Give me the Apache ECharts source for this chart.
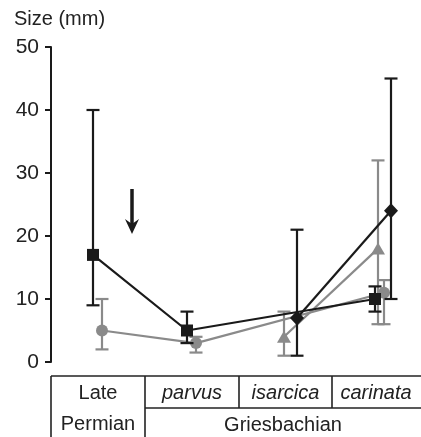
<!DOCTYPE html>
<html>
<head>
<meta charset="utf-8">
<script src="https://cdn.jsdelivr.net/npm/echarts@6/dist/echarts.min.js"></script>
<style>
html,body{margin:0;padding:0;background:#fff;}
#chart{width:421px;height:437px;}
</style>
</head>
<body>
<div id="chart"></div>
<script>
// ---- data ----
const categories = ['Late Permian', 'parvus', 'isarcica', 'carinata'];
const periodLabels = ['Late\nPermian', 'Griesbachian'];
const yTickMin = 0, yTickMax = 50, yTickStep = 10;

const squareMean = [17, 5, null, 10];
const squareLow  = [9, 3, null, 8];
const squareHigh = [40, 8, null, 12];

const circleMean = [5, 3, null, 11];
const circleLow  = [2, 1.5, null, 6];
const circleHigh = [10, 4, null, 13];

const triangleMean = [null, null, 4, 18];
const triangleLow  = [null, null, 1, 6];
const triangleHigh = [null, null, 8, 32];

const diamondMean = [null, null, 7, 24];
const diamondLow  = [null, null, 1, 10];
const diamondHigh = [null, null, 21, 45];

// ---- layout / style ----
const FONT = '"Liberation Sans", Arial, Helvetica, sans-serif';
const BLACK = '#1a1a1a', GRAY = '#8a8a8a';
const gridLeft = 51, gridTop = 47, gridBottom = 75, W = 421;
const unitPx = 94;                       // px per category
const xMin = -0.5, xMax = xMin + (W - gridLeft) / unitPx;
const dodge = {square: -5 / unitPx, circle: 4 / unitPx, triangle: -2 / unitPx, diamond: 11 / unitPx};

function pts(mean, off) {
  const out = [];
  mean.forEach((v, i) => { if (v !== null) out.push([i + off, v]); });
  return out;
}
function bars(mean, lo, hi, off) {
  const out = [];
  mean.forEach((v, i) => { if (v !== null) out.push([i + off, lo[i], hi[i]]); });
  return out;
}
function errSeries(data, color, z) {
  return {
    type: 'custom', z: z, silent: true,
    data: data,
    encode: {x: 0, y: [1, 2]},
    renderItem: function (params, api) {
      const x = api.value(0);
      const a = api.coord([x, api.value(1)]);
      const b = api.coord([x, api.value(2)]);
      const hw = 6.5;
      const st = {stroke: color, lineWidth: 2.2};
      return {type: 'group', children: [
        {type: 'line', shape: {x1: a[0], y1: a[1], x2: b[0], y2: b[1]}, style: st},
        {type: 'line', shape: {x1: a[0] - hw, y1: a[1], x2: a[0] + hw, y2: a[1]}, style: st},
        {type: 'line', shape: {x1: b[0] - hw, y1: b[1], x2: b[0] + hw, y2: b[1]}, style: st}
      ]};
    }
  };
}
function lineSeries(data, color, symbol, size, z) {
  return {
    type: 'line', z: z, data: data, symbol: symbol, symbolSize: size,
    lineStyle: {color: color, width: 2.2}, itemStyle: {color: color, opacity: 1},
    silent: true, animation: false
  };
}

const chart = echarts.init(document.getElementById('chart'), null, {renderer: 'canvas'});

// table geometry
const tTop = 376, tMid = 408, tBot = 437;
const cellX = [gridLeft, gridLeft + unitPx, gridLeft + 2 * unitPx, gridLeft + 3 * unitPx - 1, W];
const lineSt = {stroke: '#222', lineWidth: 1.6};
const txt = (x, y, t, italic) => ({
  type: 'text', x: x, y: y,
  style: {text: t, fill: '#222', font: (italic ? 'italic ' : '') + '20px ' + FONT,
          textAlign: 'center', textVerticalAlign: 'middle', lineHeight: 31}
});

const graphics = [
  {type: 'text', x: 14, y: 19, style: {text: 'Size (mm)', fill: '#222', font: '20px ' + FONT, textVerticalAlign: 'middle'}},
  // arrow
  {type: 'line', shape: {x1: 132, y1: 189, x2: 132, y2: 226}, style: {stroke: BLACK, lineWidth: 3.5}},
  {type: 'polygon', shape: {points: [[125, 219], [132, 224], [139, 219], [132, 234]]}, style: {fill: BLACK}},
  // table
  {type: 'line', shape: {x1: gridLeft, y1: tTop, x2: W, y2: tTop}, style: lineSt},
  {type: 'line', shape: {x1: gridLeft, y1: tTop, x2: gridLeft, y2: tBot}, style: lineSt},
  {type: 'line', shape: {x1: cellX[1], y1: tTop, x2: cellX[1], y2: tBot}, style: lineSt},
  {type: 'line', shape: {x1: cellX[1], y1: tMid, x2: W, y2: tMid}, style: lineSt},
  {type: 'line', shape: {x1: cellX[2], y1: tTop, x2: cellX[2], y2: tMid}, style: lineSt},
  {type: 'line', shape: {x1: cellX[3], y1: tTop, x2: cellX[3], y2: tMid}, style: lineSt},
  txt((cellX[0] + cellX[1]) / 2, 409, periodLabels[0], false),
  txt((cellX[1] + cellX[2]) / 2, 393, categories[1], true),
  txt((cellX[2] + cellX[3]) / 2, 393, categories[2], true),
  txt(gridLeft + 3.5 * unitPx - 4, 393, categories[3], true),
  txt((cellX[1] + W) / 2, 425, periodLabels[1], false)
];

chart.setOption({
  animation: false,
  backgroundColor: '#fff',
  grid: {left: gridLeft, right: 0, top: gridTop, bottom: gridBottom, containLabel: false},
  xAxis: {
    type: 'value', min: xMin, max: xMax,
    axisLine: {show: false}, axisTick: {show: false}, axisLabel: {show: false}, splitLine: {show: false}
  },
  yAxis: {
    type: 'value', min: yTickMin, max: yTickMax, interval: yTickStep, position: 'left',
    axisLine: {show: true, onZero: false, lineStyle: {color: BLACK, width: 2}},
    axisTick: {show: true, inside: false, length: 6, lineStyle: {color: BLACK, width: 2}},
    axisLabel: {color: '#222', fontSize: 21, fontFamily: FONT, margin: 12},
    splitLine: {show: false}
  },
  graphic: graphics,
  series: [
    errSeries(bars(circleMean, circleLow, circleHigh, dodge.circle), GRAY, 2),
    errSeries(bars(triangleMean, triangleLow, triangleHigh, dodge.triangle), GRAY, 2),
    lineSeries(pts(circleMean, dodge.circle), GRAY, 'circle', 12, 3),
    lineSeries(pts(triangleMean, dodge.triangle), GRAY, 'triangle', [14, 12], 3),
    errSeries(bars(squareMean, squareLow, squareHigh, dodge.square), BLACK, 4),
    errSeries(bars(diamondMean, diamondLow, diamondHigh, dodge.diamond), BLACK, 4),
    lineSeries(pts(squareMean, dodge.square), BLACK, 'rect', 12, 5),
    lineSeries(pts(diamondMean, dodge.diamond), BLACK, 'diamond', [14, 15], 5)
  ]
});
</script>
</body>
</html>
